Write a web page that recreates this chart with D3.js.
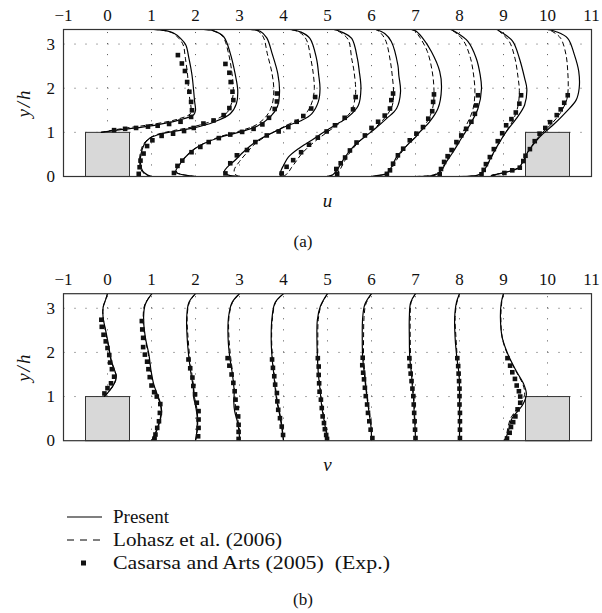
<!DOCTYPE html>
<html>
<head>
<meta charset="utf-8">
<script src="https://cdn.jsdelivr.net/npm/d3@7/dist/d3.min.js"></script>
<style>
  body { margin: 0; background: #fff; }
</style>
</head>
<body>
<svg id="chart" width="602" height="613"></svg>
<script>
// stations (x/h) where the profiles are taken, profile value is added to it
const stations = [0, 1, 2, 3, 4, 5, 6, 7, 8, 9];
const xTicks = [-1, 0, 1, 2, 3, 4, 5, 6, 7, 8, 9, 10, 11];
const yTicks = [0, 1, 2, 3];
const ribs = [[-0.5, 0.5], [9.5, 10.5]];
const ribHeight = 1;
const channelTop = 3.33;
const FONT = '"Liberation Serif", "DejaVu Serif", serif';

// u profiles, each point [u, y/h]
const uPresent = [
  [[-0.15,1.0],[0.3,1.06],[1.07,1.16],[1.6,1.27],[1.96,1.40],[2.0,1.5],[1.98,1.7],[1.96,1.92],[1.92,2.3],[1.85,2.68],[1.78,2.98],[1.66,3.13],[1.5,3.25],[1.27,3.31],[1.05,3.33]],
  [[0,0],[-0.1,0.04],[-0.2,0.12],[-0.25,0.3],[-0.24,0.5],[-0.17,0.72],[-0.05,0.86],[0.13,0.94],[0.5,1.02],[0.96,1.1],[1.41,1.23],[1.79,1.42],[1.93,1.65],[1.96,1.95],[1.9,2.33],[1.79,2.79],[1.64,3.17],[1.41,3.3],[1.18,3.33]],
  [[0,0],[-0.34,0.05],[-0.45,0.1],[-0.38,0.25],[-0.12,0.55],[0.18,0.74],[0.56,0.89],[1.02,1.01],[1.4,1.14],[1.7,1.35],[1.86,1.58],[1.91,1.92],[1.87,2.33],[1.74,2.79],[1.62,3.14],[1.47,3.29],[1.24,3.33]],
  [[0,0],[-0.25,0.03],[-0.35,0.1],[-0.27,0.22],[-0.12,0.35],[0.05,0.52],[0.28,0.72],[0.51,0.87],[0.81,1.02],[1.11,1.16],[1.41,1.27],[1.64,1.42],[1.79,1.69],[1.83,1.99],[1.8,2.3],[1.75,2.67],[1.6,3.13],[1.4,3.27],[1.15,3.33]],
  [[0,0],[-0.08,0.04],[-0.05,0.15],[0.0,0.25],[0.11,0.44],[0.34,0.63],[0.64,0.82],[0.91,1.0],[1.17,1.16],[1.47,1.35],[1.7,1.61],[1.76,1.99],[1.72,2.4],[1.68,2.67],[1.55,3.13],[1.35,3.26],[1.15,3.33]],
  [[0,0],[0.12,0.04],[0.2,0.12],[0.28,0.25],[0.4,0.44],[0.62,0.71],[0.85,0.9],[1.08,1.08],[1.34,1.31],[1.57,1.54],[1.66,1.92],[1.62,2.3],[1.6,2.52],[1.45,3.06],[1.3,3.24],[1.1,3.33]],
  [[0,0],[0.2,0.03],[0.34,0.06],[0.45,0.21],[0.57,0.44],[0.8,0.7],[0.98,0.87],[1.1,1.01],[1.32,1.24],[1.51,1.54],[1.59,1.99],[1.55,2.38],[1.36,2.83],[1.15,3.15],[1.0,3.3],[0.9,3.33]],
  [[0,0],[0.3,0.01],[0.44,0.03],[0.59,0.14],[0.7,0.33],[0.85,0.55],[1.04,0.86],[1.23,1.16],[1.42,1.54],[1.5,1.99],[1.47,2.3],[1.38,2.68],[1.19,3.06],[0.95,3.25],[0.8,3.33]],
  [[0,0],[0.25,0.01],[0.45,0.04],[0.53,0.1],[0.61,0.22],[0.72,0.44],[0.87,0.71],[1.06,1.01],[1.29,1.31],[1.48,1.62],[1.53,1.99],[1.48,2.23],[1.36,2.68],[1.21,3.06],[0.98,3.25],[0.85,3.33]],
  [[0,0],[-0.2,0.01],[-0.28,0.025],[-0.1,0.06],[0.15,0.12],[0.35,0.2],[0.45,0.35],[0.55,0.55],[0.72,0.78],[0.9,0.97],[1.12,1.16],[1.42,1.46],[1.65,1.73],[1.72,2.0],[1.71,2.38],[1.61,2.76],[1.46,3.13],[1.2,3.28],[1.0,3.33]]
];
const uLohasz = [
  [[-0.15,1.0],[0.3,1.08],[1.07,1.19],[1.6,1.3],[1.88,1.42],[1.9,1.55],[1.87,1.75],[1.84,2.0],[1.82,2.3],[1.77,2.68],[1.72,2.98],[1.62,3.13],[1.48,3.25],[1.27,3.31],[1.05,3.33]],
  [[0,0],[-0.12,0.04],[-0.22,0.12],[-0.27,0.3],[-0.26,0.5],[-0.19,0.72],[-0.06,0.86],[0.12,0.95],[0.5,1.04],[0.96,1.13],[1.41,1.27],[1.72,1.45],[1.83,1.7],[1.86,2.0],[1.83,2.33],[1.75,2.79],[1.62,3.17],[1.41,3.3],[1.18,3.33]],
  [[0,0],[-0.32,0.05],[-0.43,0.1],[-0.37,0.25],[-0.12,0.55],[0.17,0.74],[0.55,0.9],[1.0,1.03],[1.38,1.17],[1.62,1.38],[1.74,1.62],[1.78,1.95],[1.74,2.33],[1.63,2.79],[1.55,3.14],[1.43,3.29],[1.24,3.33]],
  [[0,0],[-0.1,0.05],[-0.12,0.15],[0.0,0.34],[0.15,0.52],[0.33,0.72],[0.55,0.88],[0.84,1.04],[1.13,1.19],[1.38,1.32],[1.55,1.48],[1.66,1.72],[1.7,1.99],[1.68,2.3],[1.62,2.67],[1.52,3.1],[1.36,3.27],[1.15,3.33]],
  [[0,0],[0.1,0.08],[0.18,0.2],[0.27,0.32],[0.4,0.5],[0.6,0.7],[0.85,0.9],[1.1,1.08],[1.35,1.27],[1.55,1.5],[1.63,1.8],[1.64,2.0],[1.6,2.4],[1.55,2.67],[1.47,3.1],[1.3,3.26],[1.15,3.33]],
  [[0,0],[0.18,0.05],[0.28,0.15],[0.36,0.3],[0.48,0.5],[0.67,0.74],[0.88,0.93],[1.1,1.12],[1.32,1.35],[1.47,1.6],[1.5,1.92],[1.47,2.3],[1.43,2.6],[1.33,3.06],[1.22,3.24],[1.1,3.33]],
  [[0,0],[0.25,0.04],[0.38,0.1],[0.5,0.25],[0.62,0.46],[0.82,0.72],[1.0,0.9],[1.12,1.05],[1.3,1.3],[1.4,1.6],[1.42,1.95],[1.38,2.38],[1.27,2.83],[1.1,3.15],[0.98,3.3],[0.9,3.33]],
  [[0,0],[0.32,0.02],[0.47,0.06],[0.6,0.18],[0.7,0.36],[0.84,0.58],[1.0,0.86],[1.15,1.15],[1.3,1.5],[1.35,1.9],[1.32,2.3],[1.25,2.68],[1.1,3.06],[0.92,3.25],[0.8,3.33]],
  [[0,0],[0.28,0.01],[0.46,0.05],[0.55,0.12],[0.63,0.25],[0.74,0.46],[0.88,0.72],[1.05,1.0],[1.22,1.28],[1.33,1.6],[1.36,1.95],[1.33,2.25],[1.26,2.68],[1.13,3.06],[0.95,3.25],[0.85,3.33]],
  [[0,0],[-0.18,0.01],[-0.25,0.03],[-0.08,0.07],[0.17,0.13],[0.36,0.22],[0.46,0.37],[0.56,0.57],[0.72,0.8],[0.88,0.99],[1.08,1.18],[1.3,1.45],[1.44,1.75],[1.47,2.0],[1.46,2.38],[1.42,2.76],[1.3,3.13],[1.12,3.28],[1.0,3.33]]
];
const uCasarsa = [
  [[0.15,1.05],[0.4,1.08],[0.65,1.1],[0.92,1.13],[1.14,1.15],[1.4,1.19],[1.66,1.24],[1.9,1.35],[1.92,1.50],[1.9,1.69],[1.86,1.92],[1.81,2.14],[1.76,2.39],[1.69,2.56],[1.6,2.75]],
  [[-0.29,0.06],[-0.27,0.21],[-0.25,0.36],[-0.18,0.52],[-0.1,0.69],[0.02,0.82],[0.23,0.92],[0.49,0.97],[0.74,1.03],[0.96,1.1],[1.18,1.2],[1.41,1.27],[1.64,1.39],[1.77,1.55],[1.86,1.73],[1.84,1.92],[1.8,2.14],[1.77,2.35],[1.68,2.55]],
  [[-0.49,0.08],[-0.41,0.24],[-0.3,0.36],[-0.09,0.55],[0.11,0.67],[0.3,0.78],[0.53,0.87],[0.79,0.95],[1.06,1.01],[1.32,1.08],[1.52,1.18],[1.67,1.33],[1.8,1.53],[1.85,1.7],[1.85,1.88]],
  [[-0.32,0.07],[-0.21,0.3],[-0.06,0.48],[0.17,0.6],[0.36,0.78],[0.62,0.93],[0.89,1.02],[1.11,1.12],[1.3,1.24],[1.45,1.37],[1.63,1.54],[1.72,1.8]],
  [[-0.04,0.07],[0.07,0.22],[0.22,0.37],[0.4,0.55],[0.58,0.72],[0.78,0.88],[0.98,1.02],[1.17,1.16],[1.39,1.33],[1.58,1.52],[1.64,1.8]],
  [[0.22,0.06],[0.2,0.17],[0.3,0.3],[0.4,0.43],[0.51,0.59],[0.66,0.77],[0.85,0.93],[1.0,1.1],[1.15,1.24],[1.3,1.38],[1.42,1.54],[1.45,1.73],[1.49,1.88]],
  [[0.35,0.06],[0.42,0.14],[0.49,0.29],[0.6,0.48],[0.72,0.63],[0.87,0.82],[1.02,0.97],[1.17,1.12],[1.29,1.31],[1.38,1.48],[1.4,1.69],[1.42,1.86]],
  [[0.55,0.05],[0.58,0.17],[0.65,0.33],[0.73,0.46],[0.82,0.6],[0.93,0.78],[1.04,0.93],[1.15,1.08],[1.27,1.24],[1.35,1.42],[1.38,1.61],[1.42,1.84]],
  [[0.5,0.05],[0.55,0.15],[0.6,0.28],[0.69,0.44],[0.78,0.62],[0.87,0.8],[0.97,0.98],[1.06,1.16],[1.18,1.3],[1.28,1.45],[1.36,1.65],[1.4,1.84]],
  [[0.02,0.08],[0.2,0.14],[0.37,0.2],[0.45,0.35],[0.5,0.47],[0.6,0.62],[0.71,0.8],[0.82,0.97],[0.95,1.1],[1.06,1.23],[1.21,1.39],[1.3,1.52],[1.38,1.67],[1.46,1.84]]
];

// v profiles, each point [v, y/h]
const vPresent = [
  [[-0.08,1.0],[0.0,1.08],[0.14,1.27],[0.2,1.44],[0.16,1.6],[0.09,1.8],[0.02,2.18],[-0.04,2.49],[-0.1,2.79],[-0.1,3.02],[-0.04,3.2],[0,3.33]],
  [[0,0],[0.11,0.21],[0.19,0.44],[0.23,0.67],[0.2,0.86],[0.13,1.05],[0.05,1.28],[-0.01,1.58],[-0.06,1.96],[-0.14,2.34],[-0.18,2.79],[-0.14,3.09],[0.01,3.33]],
  [[0,0],[0.03,0.21],[0.04,0.51],[0.0,0.8],[-0.04,0.97],[-0.05,1.2],[-0.1,1.5],[-0.15,1.88],[-0.19,2.34],[-0.2,2.79],[-0.15,3.13],[0,3.33]],
  [[0,0],[-0.01,0.21],[-0.05,0.44],[-0.11,0.67],[-0.13,0.89],[-0.12,1.1],[-0.16,1.5],[-0.22,1.88],[-0.26,2.34],[-0.25,2.79],[-0.17,3.13],[0,3.33]],
  [[0,0],[-0.04,0.3],[-0.09,0.6],[-0.15,0.89],[-0.19,1.2],[-0.22,1.5],[-0.26,1.88],[-0.28,2.34],[-0.26,2.79],[-0.19,3.13],[0,3.33]],
  [[0,0],[-0.03,0.2],[-0.08,0.47],[-0.13,0.77],[-0.17,1.16],[-0.21,1.54],[-0.23,1.91],[-0.24,2.29],[-0.23,2.74],[-0.16,3.05],[0,3.33]],
  [[0,0],[-0.01,0.3],[-0.05,0.6],[-0.09,0.89],[-0.13,1.2],[-0.16,1.5],[-0.2,1.88],[-0.21,2.34],[-0.2,2.79],[-0.15,3.09],[0,3.33]],
  [[0,0],[-0.01,0.3],[-0.03,0.6],[-0.04,0.89],[-0.07,1.2],[-0.09,1.5],[-0.13,1.88],[-0.14,2.34],[-0.14,2.79],[-0.11,3.13],[0,3.33]],
  [[0,0],[0,0.3],[0,0.6],[0,0.89],[0,1.2],[-0.01,1.5],[-0.06,1.88],[-0.1,2.34],[-0.11,2.79],[-0.07,3.13],[0,3.33]],
  [[0.02,0],[0.07,0.1],[0.13,0.29],[0.18,0.48],[0.29,0.63],[0.44,0.82],[0.52,1.05],[0.46,1.28],[0.29,1.58],[0.1,1.96],[-0.03,2.34],[-0.07,2.79],[-0.05,3.13],[0,3.33]]
];
const vLohasz = [
  [[-0.08,1.0],[0.02,1.1],[0.16,1.3],[0.2,1.46],[0.15,1.62],[0.08,1.82],[0.01,2.2],[-0.05,2.5],[-0.1,2.8],[-0.1,3.02],[-0.04,3.2],[0,3.33]],
  [[0,0],[0.1,0.21],[0.18,0.44],[0.22,0.67],[0.19,0.86],[0.12,1.05],[0.04,1.28],[-0.02,1.58],[-0.07,1.96],[-0.15,2.34],[-0.19,2.79],[-0.15,3.09],[0.01,3.33]],
  [[0,0],[0.04,0.21],[0.05,0.51],[0.02,0.8],[-0.02,0.97],[-0.04,1.2],[-0.08,1.5],[-0.13,1.88],[-0.17,2.34],[-0.19,2.79],[-0.14,3.13],[0,3.33]],
  [[0,0],[0.0,0.21],[-0.03,0.44],[-0.08,0.67],[-0.1,0.89],[-0.11,1.1],[-0.15,1.5],[-0.2,1.88],[-0.24,2.34],[-0.24,2.79],[-0.16,3.13],[0,3.33]],
  [[0,0],[-0.03,0.3],[-0.08,0.6],[-0.14,0.89],[-0.18,1.2],[-0.21,1.5],[-0.25,1.88],[-0.27,2.34],[-0.25,2.79],[-0.18,3.13],[0,3.33]],
  [[0,0],[-0.02,0.2],[-0.07,0.47],[-0.12,0.77],[-0.16,1.16],[-0.2,1.54],[-0.22,1.91],[-0.22,2.29],[-0.21,2.74],[-0.15,3.05],[0,3.33]],
  [[0,0],[0.0,0.3],[-0.04,0.6],[-0.08,0.89],[-0.12,1.2],[-0.15,1.5],[-0.18,1.88],[-0.18,2.34],[-0.17,2.79],[-0.13,3.09],[0,3.33]],
  [[0,0],[0,0.3],[-0.02,0.6],[-0.03,0.89],[-0.06,1.2],[-0.08,1.5],[-0.11,1.88],[-0.12,2.34],[-0.12,2.79],[-0.1,3.13],[0,3.33]],
  [[0,0],[0.01,0.3],[0.01,0.6],[0.01,0.89],[0.0,1.2],[-0.01,1.5],[-0.05,1.88],[-0.08,2.34],[-0.1,2.79],[-0.06,3.13],[0,3.33]],
  [[0.02,0],[0.06,0.1],[0.1,0.29],[0.15,0.48],[0.24,0.63],[0.38,0.82],[0.48,1.05],[0.44,1.28],[0.28,1.58],[0.09,1.96],[-0.03,2.34],[-0.06,2.79],[-0.04,3.13],[0,3.33]]
];
const vCasarsa = [
  [[-0.14,2.74],[-0.13,2.58],[-0.09,2.4],[-0.04,2.25],[0.0,2.1],[0.04,1.94],[0.06,1.77],[0.1,1.62],[0.15,1.45],[0.08,1.3],[0.0,1.19],[-0.07,1.07]],
  [[-0.22,2.71],[-0.21,2.52],[-0.19,2.33],[-0.19,2.12],[-0.15,1.95],[-0.1,1.79],[-0.07,1.62],[-0.04,1.44],[0.0,1.25],[0.06,1.1],[0.12,1.0],[0.2,0.83],[0.19,0.63],[0.17,0.44],[0.13,0.29],[0.09,0.14],[0.07,0.05]],
  [[-0.16,1.84],[-0.12,1.64],[-0.07,1.43],[-0.05,1.24],[-0.01,1.05],[0.03,0.86],[0.07,0.67],[0.07,0.48],[0.07,0.29],[0.06,0.1]],
  [[-0.27,1.87],[-0.23,1.7],[-0.18,1.5],[-0.14,1.31],[-0.11,1.12],[-0.09,0.93],[-0.06,0.74],[-0.03,0.55],[-0.02,0.36],[-0.02,0.2],[-0.02,0.04]],
  [[-0.26,1.84],[-0.24,1.65],[-0.21,1.46],[-0.19,1.27],[-0.15,1.08],[-0.14,0.89],[-0.12,0.7],[-0.08,0.51],[-0.04,0.32],[-0.01,0.13]],
  [[-0.22,1.87],[-0.2,1.68],[-0.2,1.49],[-0.19,1.3],[-0.18,1.11],[-0.15,0.93],[-0.13,0.74],[-0.11,0.55],[-0.08,0.4],[-0.06,0.26],[-0.03,0.13],[-0.01,0.04]],
  [[-0.2,1.88],[-0.21,1.71],[-0.19,1.54],[-0.17,1.39],[-0.15,1.2],[-0.13,1.01],[-0.1,0.82],[-0.08,0.63],[-0.05,0.44],[-0.02,0.25],[0.02,0.06]],
  [[-0.14,1.87],[-0.13,1.69],[-0.11,1.52],[-0.09,1.35],[-0.07,1.18],[-0.05,1.01],[-0.04,0.82],[-0.03,0.63],[-0.02,0.44],[-0.01,0.25],[0.0,0.06]],
  [[-0.05,1.87],[-0.03,1.69],[-0.02,1.52],[-0.01,1.35],[0,1.18],[0,1.01],[0,0.82],[0.01,0.63],[0.01,0.44],[0.01,0.25],[0.01,0.06]],
  [[0.09,1.87],[0.15,1.7],[0.2,1.55],[0.26,1.4],[0.3,1.25],[0.35,1.12],[0.38,1.0],[0.38,0.86],[0.32,0.71],[0.27,0.55],[0.22,0.42],[0.17,0.31],[0.14,0.18],[0.08,0.05]]
];

const legendItems = ['Present', 'Lohasz et al. (2006)', 'Casarsa and Arts (2005)\u00a0\u00a0(Exp.)'];
const legendWidths = [null, 169, 277];

const svg = d3.select('#chart').attr('font-family', FONT);
const x = d3.scaleLinear().domain([-1, 11]).range([63.5, 591.5]);

function drawPanel(opts) {
  const y = d3.scaleLinear().domain([0, channelTop]).range([opts.bottom, opts.top]);
  const g = svg.append('g');
  const clipId = 'clip-' + opts.name;

  g.append('clipPath').attr('id', clipId)
    .append('rect')
    .attr('x', x(-1)).attr('y', y(channelTop))
    .attr('width', x(11) - x(-1)).attr('height', y(0) - y(channelTop));

  // dotted grid
  const quarter = (x(1) - x(0)) / 4;
  const quarterY = (y(0) - y(1)) / 4;
  g.selectAll('.hgrid').data(yTicks.filter(d => d > 0)).enter().append('line')
    .attr('x1', x(-1)).attr('x2', x(11))
    .attr('y1', d => y(d)).attr('y2', d => y(d))
    .attr('stroke', '#555').attr('stroke-width', 1)
    .attr('stroke-dasharray', `1,${quarter - 1}`);
  g.selectAll('.vgrid').data(xTicks.slice(1, -1)).enter().append('line')
    .attr('x1', d => x(d)).attr('x2', d => x(d))
    .attr('y1', y(0)).attr('y2', y(channelTop))
    .attr('stroke', '#555').attr('stroke-width', 1)
    .attr('stroke-dasharray', `1,${quarterY - 1}`);

  // ribs
  g.selectAll('.rib').data(ribs).enter().append('rect')
    .attr('x', d => x(d[0])).attr('y', y(ribHeight))
    .attr('width', d => x(d[1]) - x(d[0]))
    .attr('height', y(0) - y(ribHeight))
    .attr('fill', '#d8d8d8').attr('stroke', '#333').attr('stroke-width', 1);

  const plot = g.append('g').attr('clip-path', `url(#${clipId})`);

  stations.forEach((s, i) => {
    const line = d3.line()
      .x(d => x(s + d[0])).y(d => y(d[1]))
      .curve(d3.curveCatmullRom.alpha(0.5));

    plot.append('path').datum(opts.lohasz[i])
      .attr('d', line).attr('fill', 'none')
      .attr('stroke', '#000').attr('stroke-width', 1)
      .attr('stroke-dasharray', '5,3');

    plot.append('path').datum(opts.present[i])
      .attr('d', line).attr('fill', 'none')
      .attr('stroke', '#000').attr('stroke-width', 1.2);

    plot.selectAll(null).data(opts.exp[i]).enter().append('rect')
      .attr('x', d => x(s + d[0]) - 2.3).attr('y', d => y(d[1]) - 2.3)
      .attr('width', 4.6).attr('height', 4.6)
      .attr('fill', '#111');
  });

  // frame
  g.append('rect')
    .attr('x', x(-1)).attr('y', y(channelTop))
    .attr('width', x(11) - x(-1)).attr('height', y(0) - y(channelTop))
    .attr('fill', 'none').attr('stroke', '#333').attr('stroke-width', 1.2);

  // tick labels on top
  g.selectAll('.xt').data(xTicks).enter().append('text')
    .attr('x', d => x(d)).attr('y', opts.top - 9)
    .attr('text-anchor', 'middle').attr('font-size', '17px').attr('fill', '#111')
    .text(d => d < 0 ? '\u2212' + Math.abs(d) : d);

  g.selectAll('.yt').data(yTicks).enter().append('text')
    .attr('x', 55).attr('y', d => y(d) + 5.5)
    .attr('text-anchor', 'end').attr('font-size', '17px').attr('fill', '#111')
    .text(d => d);

  // axis titles
  const midY = (y(0) + y(channelTop)) / 2;
  g.append('text')
    .attr('transform', `translate(30,${midY}) rotate(-90)`)
    .attr('text-anchor', 'middle').attr('font-size', '19px').attr('fill', '#111')
    .attr('font-style', 'italic').attr('letter-spacing', '2px')
    .text('y/h');

  g.append('text')
    .attr('x', (x(-1) + x(11)) / 2).attr('y', opts.labelY)
    .attr('text-anchor', 'middle').attr('font-size', '19px').attr('fill', '#111')
    .attr('font-style', 'italic')
    .text(opts.label);

  if (opts.caption) {
    g.append('text')
      .attr('x', 303).attr('y', opts.captionY)
      .attr('text-anchor', 'middle').attr('font-size', '17px').attr('fill', '#111')
      .text(opts.caption);
  }
}

drawPanel({ name: 'u', top: 29.5, bottom: 176.5, present: uPresent, lohasz: uLohasz, exp: uCasarsa,
  label: 'u', labelY: 207, caption: '(a)', captionY: 247 });
drawPanel({ name: 'v', top: 293.7, bottom: 440.7, present: vPresent, lohasz: vLohasz, exp: vCasarsa,
  label: 'v', labelY: 471 });

// legend
const legend = svg.append('g');
const rowY = [517, 540, 563];
legend.append('line').attr('x1', 67).attr('x2', 102).attr('y1', rowY[0]).attr('y2', rowY[0])
  .attr('stroke', '#000').attr('stroke-width', 1.2);
legend.append('line').attr('x1', 67).attr('x2', 102).attr('y1', rowY[1]).attr('y2', rowY[1])
  .attr('stroke', '#000').attr('stroke-width', 1).attr('stroke-dasharray', '7,6');
legend.append('rect').attr('x', 81).attr('y', rowY[2] - 2.5).attr('width', 5).attr('height', 5)
  .attr('fill', '#111');
legend.selectAll('.lt').data(legendItems).enter().append('text')
  .attr('x', 113).attr('y', (d, i) => rowY[i] + 6)
  .attr('font-size', '19px').attr('fill', '#111')
  .each(function(d, i) {
    if (legendWidths[i]) {
      d3.select(this).attr('textLength', legendWidths[i]).attr('lengthAdjust', 'spacingAndGlyphs');
    }
  })
  .text(d => d);

svg.append('text').attr('x', 303).attr('y', 605)
  .attr('text-anchor', 'middle').attr('font-size', '17px').attr('fill', '#111').text('(b)');
</script>
</body>
</html>
